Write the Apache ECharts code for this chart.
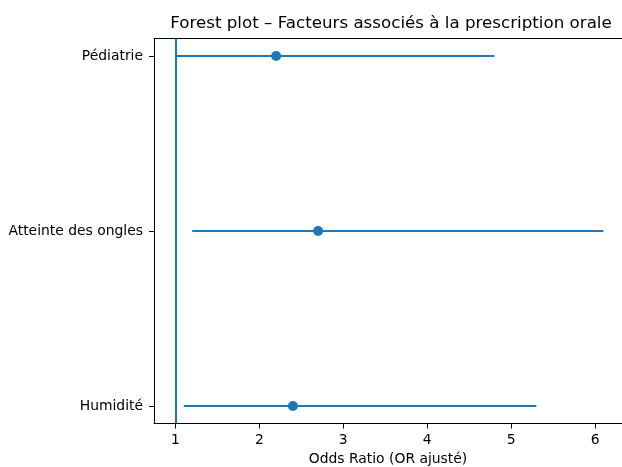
<!DOCTYPE html>
<html><head><meta charset="utf-8">
<script src="https://cdn.jsdelivr.net/npm/echarts@6/dist/echarts.min.js"></script>
<style>html,body{margin:0;padding:0;background:#fff}#c{width:622px;height:467px}</style>
</head><body><div id="c"></div>
<script>
const categories = ['Humidité', 'Atteinte des ongles', 'Pédiatrie'];
const orValues = [2.4, 2.7, 2.2];
const ciLow = [1.1, 1.2, 1.0];
const ciHigh = [5.3, 6.1, 4.8];
const xTicks = [1, 2, 3, 4, 5, 6];
const refValue = 1;

const color = '#1f77b4';
const font = 'DejaVu Sans';
const chart = echarts.init(document.getElementById('c'));
const ciData = categories.map((c, i) => [ciLow[i], ciHigh[i], i]);
const ptData = categories.map((c, i) => [orValues[i], i]);

chart.setOption({
  animation: false,
  title: {
    text: 'Forest plot – Facteurs associés à la prescription orale',
    left: 386, top: 10, textAlign: 'center',
    textStyle: { fontFamily: font, fontSize: 16.7, fontWeight: 'normal', color: '#000' }
  },
  grid: { left: 154, right: 0, top: 38.5, bottom: 43.5, containLabel: false, outerBoundsMode: 'none' },
  xAxis: [{
    type: 'value', min: 0.745, max: 6.321,
    name: 'Odds Ratio (OR ajusté)', nameLocation: 'middle', nameGap: 28,
    nameTextStyle: { fontFamily: font, fontSize: 13.9, color: '#000' },
    axisLine: { show: true, onZero: false, lineStyle: { color: '#000', width: 1 } },
    axisTick: { show: true, length: 5, customValues: xTicks, lineStyle: { color: '#000' } },
    axisLabel: { customValues: xTicks, fontFamily: font, fontSize: 13.9, color: '#000', margin: 10 },
    splitLine: { show: false }
  }, {
    type: 'value', position: 'top', min: 0.745, max: 6.321,
    axisLine: { show: true, onZero: false, lineStyle: { color: '#000', width: 1 } },
    axisTick: { show: false }, axisLabel: { show: false }, splitLine: { show: false }
  }],
  yAxis: {
    type: 'value', min: -0.1, max: 2.1,
    axisLine: { show: true, onZero: false, lineStyle: { color: '#000', width: 1 } },
    axisTick: { show: true, length: 5, customValues: [0, 1, 2], lineStyle: { color: '#000' } },
    axisLabel: { customValues: [0, 1, 2], formatter: v => categories[Math.round(v)],
      fontFamily: font, fontSize: 13.9, color: '#000', margin: 11 },
    splitLine: { show: false }
  },
  series: [{
    type: 'custom',
    data: ciData,
    encode: { x: [0, 1], y: 2 },
    renderItem: (params, api) => {
      const a = api.coord([api.value(0), api.value(2)]);
      const b = api.coord([api.value(1), api.value(2)]);
      return { type: 'line', shape: { x1: a[0], y1: a[1], x2: b[0], y2: b[1] },
        style: { stroke: color, lineWidth: 2 } };
    },
    z: 2
  }, {
    type: 'scatter', data: ptData, symbol: 'circle', symbolSize: 10,
    itemStyle: { color: color, opacity: 1 }, z: 3,
    markLine: {
      silent: true, symbol: 'none', label: { show: false },
      lineStyle: { color: color, type: 'solid', width: 2 },
      data: [{ xAxis: refValue }]
    }
  }]
});
</script></body></html>
